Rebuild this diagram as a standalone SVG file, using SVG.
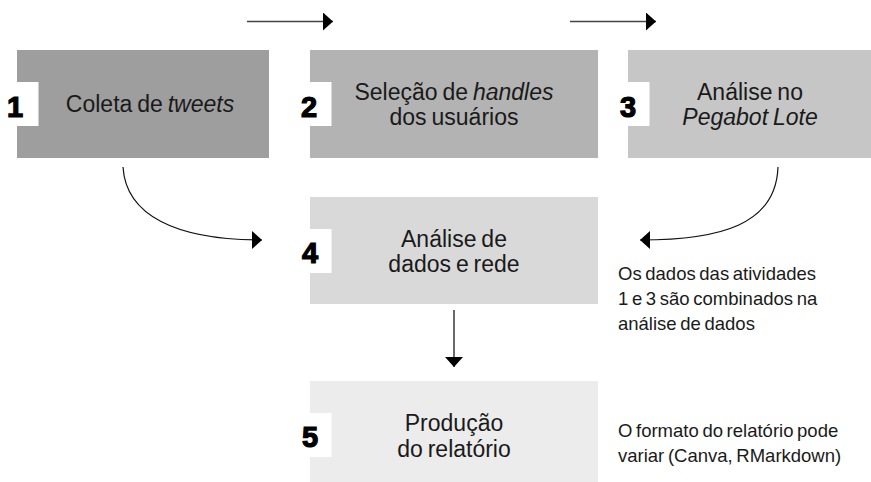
<svg xmlns="http://www.w3.org/2000/svg" width="871" height="482" viewBox="0 0 871 482">
<style>
.lbl{font-family:"Liberation Sans",Arial,sans-serif;font-size:23px;fill:#1a1a1a;text-anchor:middle;word-spacing:-1.5px}
.num{font-family:"Liberation Sans",Arial,sans-serif;font-size:29px;font-weight:bold;fill:#000;stroke:#000;stroke-width:1.2;text-anchor:middle}
.note{font-family:"Liberation Sans",Arial,sans-serif;font-size:18.5px;fill:#1a1a1a;word-spacing:-1.5px}
.it{font-style:italic}
.tab{fill:#fff}
.flat{fill:none;stroke:#444;stroke-width:1.6}
.curve{fill:none;stroke:#111;stroke-width:1.2}
</style>
<defs>
<marker id="ah" viewBox="0 0 10 18" refX="10" refY="9" markerWidth="10" markerHeight="18" markerUnits="userSpaceOnUse" orient="auto">
<path d="M0,0 L10,9 L0,18 Z" fill="#000"/>
</marker>
</defs>
<g id="connectors">
<path class="flat" d="M247,21.5 H333" marker-end="url(#ah)"/>
<path class="flat" d="M570,21.5 H656" marker-end="url(#ah)"/>
<path class="curve" d="M123,167 C126,215 175,240 262,240" marker-end="url(#ah)"/>
<path class="curve" d="M778,167 C776,225 720,240 640,240" marker-end="url(#ah)"/>
<path class="flat" d="M454,310 V367" marker-end="url(#ah)"/>
</g>
<g id="node1">
<rect x="17" y="50" width="252" height="108" fill="#9e9e9e"/>
<rect class="tab" x="17" y="82" width="21.5" height="44"/>
<text class="num" x="15" y="117">1</text>
<text class="lbl" x="150" y="111.5">Coleta de <tspan class="it">tweets</tspan></text>
</g>
<g id="node2">
<rect x="310" y="50" width="288" height="108" fill="#b3b3b3"/>
<rect class="tab" x="310" y="82" width="21.5" height="44"/>
<text class="num" x="309" y="117">2</text>
<text class="lbl" x="454" y="99.5">Seleção de <tspan class="it">handles</tspan></text>
<text class="lbl" x="454" y="125">dos usuários</text>
</g>
<g id="node3">
<rect x="628" y="50" width="243" height="108" fill="#c6c6c6"/>
<rect class="tab" x="628" y="82" width="21.5" height="44"/>
<text class="num" x="628" y="117">3</text>
<text class="lbl" x="750" y="99.5">Análise no</text>
<text class="lbl it" x="750" y="125">Pegabot Lote</text>
</g>
<g id="node4">
<rect x="310" y="197" width="288" height="107" fill="#d9d9d9"/>
<rect class="tab" x="310" y="229" width="21.5" height="44"/>
<text class="num" x="310" y="263">4</text>
<text class="lbl" x="454" y="246.5">Análise de</text>
<text class="lbl" x="454" y="272">dados e rede</text>
</g>
<g id="node5">
<rect x="310" y="381" width="288" height="107" fill="#ececec"/>
<rect class="tab" x="310" y="413" width="21.5" height="44"/>
<text class="num" x="310" y="447">5</text>
<text class="lbl" x="454" y="431">Produção</text>
<text class="lbl" x="454" y="457">do relatório</text>
</g>
<g id="note1">
<text class="note" x="618" y="280">Os dados das atividades</text>
<text class="note" x="618" y="305">1 e 3 são combinados na</text>
<text class="note" x="618" y="330">análise de dados</text>
</g>
<g id="note2">
<text class="note" x="618" y="437">O formato do relatório pode</text>
<text class="note" x="618" y="462">variar (Canva, RMarkdown)</text>
</g>
</svg>
